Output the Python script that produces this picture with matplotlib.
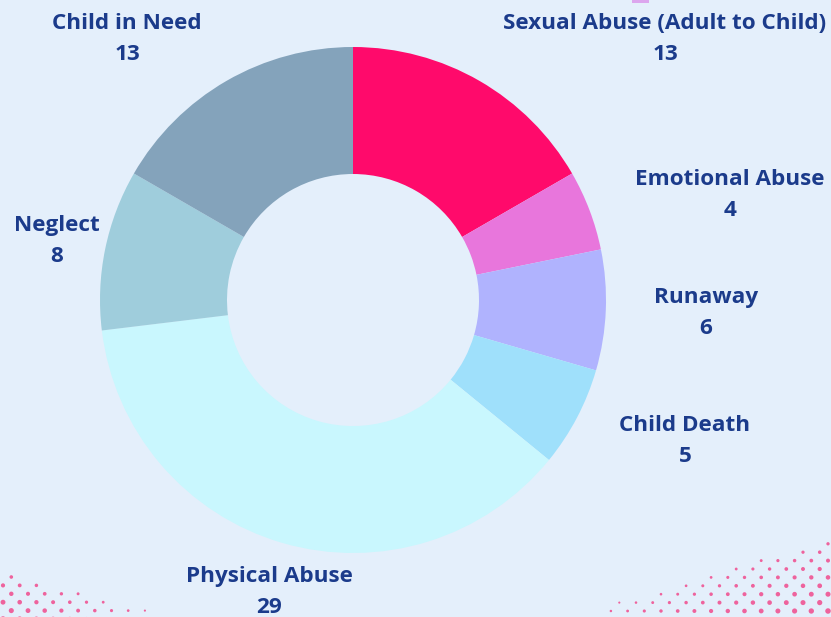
import numpy as np
import matplotlib.pyplot as plt
from matplotlib.patches import Rectangle

plt.rcParams["font.family"] = ["Open Sans", "DejaVu Sans"]

W, H = 831, 617
BG = "#e4effb"
TEXT = "#1b3b8b"

categories = ["Sexual Abuse (Adult to Child)", "Emotional Abuse", "Runaway",
              "Child Death", "Physical Abuse", "Neglect", "Child in Need"]
values = [13, 4, 6, 5, 29, 8, 13]
colours = ["#ff0a6b", "#e876dc", "#b0b3fe", "#9fe0fb", "#c9f7fe", "#9fcddc", "#84a3bb"]

# label anchor points (pixel coords, top-left origin)
label_xy = [(665, 39), (730, 195), (706, 313), (685, 441),
            (269, 592), (57, 241), (127, 39)]

CX, CY, R, RING = 353, 300, 253, 127

fig = plt.figure(figsize=(W / 100, H / 100), dpi=100, facecolor=BG)
ax = fig.add_axes([0, 0, 1, 1])
ax.set_facecolor(BG)

ax.pie(values, colors=colours, startangle=90, counterclock=False,
       center=(CX, H - CY), radius=R, wedgeprops=dict(width=RING, linewidth=0))
ax.set_xlim(0, W)
ax.set_ylim(0, H)
ax.set_aspect("auto")
ax.axis("off")

for name, v, (x, y) in zip(categories, values, label_xy):
    ax.text(x, H - y, f"{name}\n{v}", ha="center", va="center", color=TEXT,
            fontsize=16.2, fontweight="bold", linespacing=1.65)

# small marker peeking in at the top edge
ax.add_patch(Rectangle((632, H - 3), 17, 4, color="#dca6ee", lw=0))

# halftone dots, bottom-left corner
xs, ys, ss = [], [], []
for r in range(6):
    y = 619 - r * 8.4
    off = 0 if r % 2 == 0 else 8.3
    n = 11 - r * 2
    for c in range(n):
        x = 3 + off + c * 16.7
        if x > 170:
            break
        f = max(0.0, 1 - (x / 170) - r * 0.12)
        xs.append(x); ys.append(H - y); ss.append(2 + 14 * f)
# halftone dots, bottom-right corner
for r in range(10):
    y = 611 - r * 8.4
    off = 0 if r % 2 == 0 else 8.3
    for c in range(14):
        x = 828 - off - c * 16.7
        lim = 240 - r * 28
        if 831 - x > lim:
            break
        f = max(0.0, 1 - (831 - x) / 240 - r * 0.09)
        xs.append(x); ys.append(H - y); ss.append(2 + 14 * f)
ax.scatter(xs, ys, s=ss, color="#f2347e", alpha=0.75, lw=0)

fig.savefig("out.png", dpi=100, facecolor=BG)
